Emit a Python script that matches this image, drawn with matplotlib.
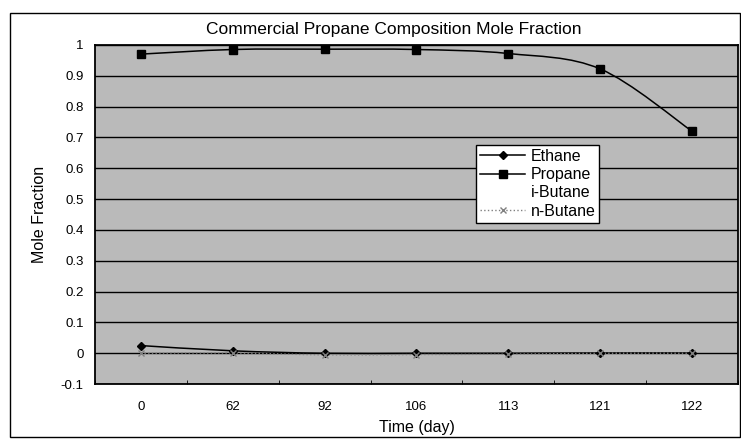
import numpy as np
import matplotlib
matplotlib.use("Agg")
import matplotlib.pyplot as plt
from matplotlib.path import Path
from matplotlib.patches import PathPatch, Rectangle

plt.rcParams['font.family'] = ['Liberation Sans', 'DejaVu Sans']

days = ['0', '62', '92', '106', '113', '121', '122']
ethane = [0.025, 0.008, 0.0, 0.0, 0.0, 0.001, 0.001]
propane = [0.97, 0.985, 0.986, 0.985, 0.972, 0.922, 0.72]
i_butane = [0.004, 0.006, 0.012, 0.014, 0.026, 0.077, 0.279]
n_butane = [0.0, 0.001, -0.005, -0.004, -0.003, 0.0, 0.0]
y_ticks = [-0.1, 0, 0.1, 0.2, 0.3, 0.4, 0.5, 0.6, 0.7, 0.8, 0.9, 1]


def smooth_path(xs, ys):
    # excel-like smoothed line: catmull-rom turned into bezier segments
    pts = np.column_stack([xs, ys]).astype(float)
    n = len(pts)
    verts = [pts[0]]
    codes = [Path.MOVETO]
    for i in range(n - 1):
        p0 = pts[max(i - 1, 0)]
        p1 = pts[i]
        p2 = pts[i + 1]
        p3 = pts[min(i + 2, n - 1)]
        c1 = p1 + (p2 - p0) / 6.0
        c2 = p2 - (p3 - p1) / 6.0
        verts += [c1, c2, p2]
        codes += [Path.CURVE4] * 3
    return Path(verts, codes)


fig = plt.figure(figsize=(7.41, 4.4), dpi=100)
ax = fig.add_axes([0.128, 0.127, 0.868, 0.771])
ax.set_facecolor('#bababa')

x = np.arange(len(days))

# smoothed lines
for vals, col, ls, lw in [(ethane, 'black', '-', 1.1),
                          (propane, 'black', '-', 1.1),
                          (n_butane, '#808080', ':', 1.0)]:
    ax.add_patch(PathPatch(smooth_path(x, vals), facecolor='none',
                           edgecolor=col, linestyle=ls, lw=lw, zorder=3))

ax.plot(x, ethane, linestyle='none', marker='D', ms=4.5, color='black', zorder=4)
ax.plot(x, propane, linestyle='none', marker='s', ms=5.5, color='black', zorder=4)
ax.plot(x, n_butane, linestyle='none', marker='x', ms=4, color='#808080', zorder=4)

# legend handles
h1, = ax.plot([], [], '-', color='black', marker='D', ms=4.5, lw=1.1)
h2, = ax.plot([], [], '-', color='black', marker='s', ms=5.5, lw=1.1)
h3, = ax.plot([], [], linestyle='none', marker='none')
h4, = ax.plot([], [], ':', color='#808080', marker='x', ms=4, lw=1)
leg = ax.legend([h1, h2, h3, h4], ['Ethane', 'Propane', 'i-Butane', 'n-Butane'],
                loc='upper left', bbox_to_anchor=(0.593, 0.705), fontsize=11.5,
                frameon=True, fancybox=False, framealpha=1, edgecolor='black',
                handlelength=2.8, handletextpad=0.35, borderpad=0.25,
                labelspacing=0.2, borderaxespad=0)
leg.get_frame().set_linewidth(1.0)
leg.set_zorder(5)

ax.set_xlim(-0.5, len(days) - 0.5)
ax.set_ylim(-0.1, 1.0)
ax.set_yticks(y_ticks)
ax.set_yticklabels([f'{v:g}' for v in y_ticks])
ax.set_xticks(x)
ax.set_xticklabels(days)
ax.set_xticks(np.arange(len(days) + 1) - 0.5, minor=True)
ax.tick_params(axis='x', which='major', length=0, labelsize=9.5, pad=12)
ax.tick_params(axis='x', which='minor', direction='in', length=3)
ax.tick_params(axis='y', length=0, labelsize=9.5, pad=8)
ax.grid(axis='y', color='black', lw=1.0)
ax.set_axisbelow(True)
for s in ax.spines.values():
    s.set_linewidth(1.3)

ax.set_xlabel('Time (day)', fontsize=11.5, labelpad=5)
ax.set_ylabel('Mole Fraction', fontsize=11.5, labelpad=10)
fig.text(0.532, 0.932, 'Commercial Propane Composition Mole Fraction',
         ha='center', va='center', fontsize=12.5)

# outer chart border
fig.patches.append(Rectangle((0.014, 0.007), 0.984, 0.964, transform=fig.transFigure,
                             fill=False, edgecolor='black', lw=1.0))

fig.savefig('out.png', dpi=100)
